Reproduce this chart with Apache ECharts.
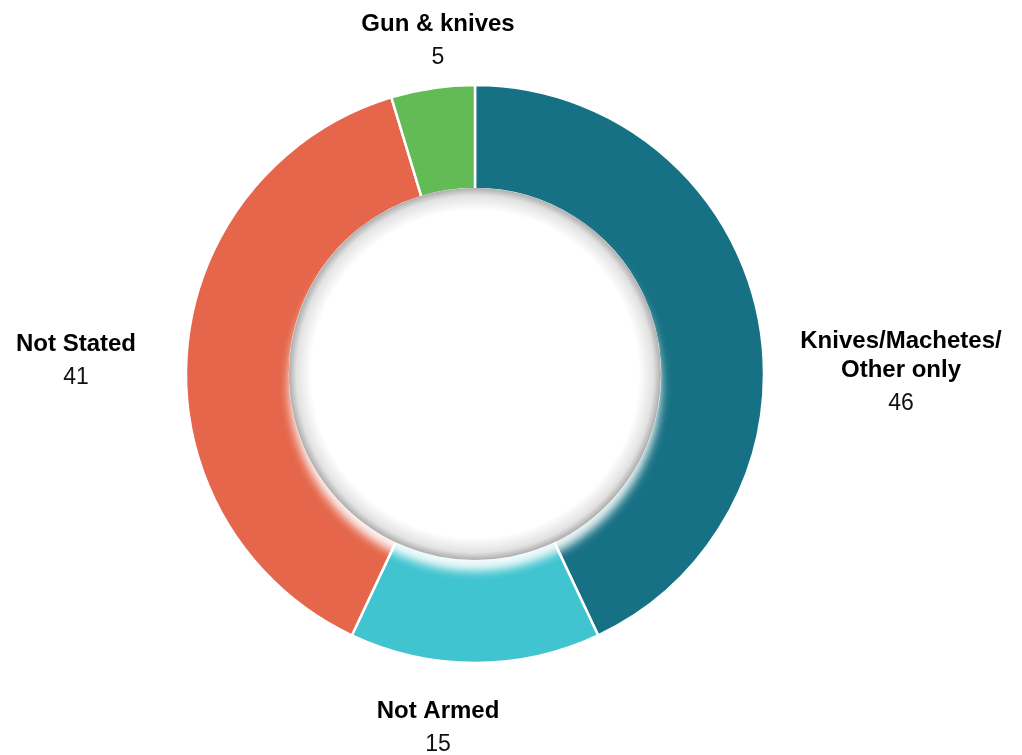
<!DOCTYPE html>
<html>
<head>
<meta charset="utf-8">
<script src="https://cdn.jsdelivr.net/npm/echarts@6/dist/echarts.min.js"></script>
<style>
html,body{margin:0;padding:0;background:#fff;}
#main{width:1022px;height:755px;}
</style>
</head>
<body>
<div id="main"></div>
<script>
const categories = ['Knives/Machetes/\nOther only', 'Not Armed', 'Not Stated', 'Gun & knives'];
const values = [46, 15, 41, 5];
const colors = ['#177184', '#40C4CF', '#E5664A', '#62BB55'];

// label block centres relative to the donut centre (px)
const labelOffsets = [[426, 1], [-37, 356], [-399, -11], [-37, -331]];

const chart = echarts.init(document.getElementById('main'), null, {renderer: 'canvas'});
const CX = 475, CY = 374, R_IN = 185, R_OUT = 289;
const FONT = "'Liberation Sans', Arial, sans-serif";

const data = categories.map((c, i) => ({name: c, value: values[i], itemStyle: {color: colors[i]}}));

chart.setOption({
  backgroundColor: '#fff',
  animation: false,
  series: [
    {
      type: 'pie',
      center: [CX, CY],
      radius: [R_IN, R_OUT],
      startAngle: 90,
      clockwise: true,
      avoidLabelOverlap: false,
      itemStyle: {borderColor: '#fff', borderWidth: 2.5},
      label: {
        show: true,
        position: 'outside',
        formatter: p => '{n|' + p.name.split('\n').join('}\n{n|') + '}\n{v|' + p.value + '}',
        rich: {
          n: {fontFamily: FONT, fontWeight: 'bold', fontSize: 24, lineHeight: 29, color: '#000', align: 'center'},
          v: {fontFamily: FONT, fontSize: 23, lineHeight: 38, color: '#111', align: 'center'}
        }
      },
      labelLine: {show: false},
      labelLayout: function (params) {
        const o = labelOffsets[params.dataIndex];
        return {x: CX + o[0], y: CY + o[1], align: 'center', verticalAlign: 'middle'};
      },
      emphasis: {disabled: true},
      data: data
    },
    {
      type: 'pie',
      center: [CX, CY],
      radius: [0, R_IN + 1],
      silent: true,
      z: 5,
      label: {show: false},
      labelLine: {show: false},
      emphasis: {disabled: true},
      itemStyle: {
        color: {
          type: 'radial', x: 0.5, y: 0.5, r: 0.5,
          colorStops: [
            {offset: 0, color: '#ffffff'},
            {offset: 0.88, color: '#ffffff'},
            {offset: 0.96, color: '#e2e2e2'},
            {offset: 1, color: '#adadad'}
          ]
        },
        shadowBlur: 10,
        shadowOffsetY: 11,
        shadowColor: 'rgba(255,255,255,0.92)',
        borderWidth: 0
      },
      data: [{name: 'hole', value: 1}]
    }
  ]
});
</script>
</body>
</html>
